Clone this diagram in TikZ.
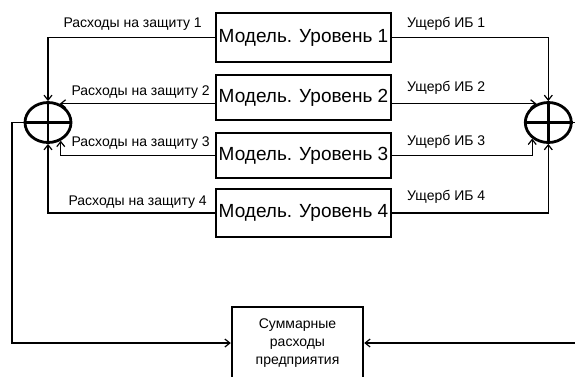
\documentclass[tikz,border=0pt]{standalone}
\usepackage{fontspec}
\setmainfont{Liberation Sans}
\usetikzlibrary{arrows.meta,shapes.geometric}
\begin{document}
\begin{tikzpicture}[x=1pt,y=-1pt,
  model/.style={draw,line width=2.8pt,minimum width=175pt,minimum height=46pt,inner sep=0pt,
    font=\fontsize{19}{23}\selectfont},
  adder/.style={draw,ellipse,line width=2.8pt,minimum width=46pt,minimum height=40pt,inner sep=0pt},
  total/.style={draw,line width=2.4pt,minimum width=131pt,minimum height=72pt,inner sep=0pt,
    align=center,font=\fontsize{14}{18}\selectfont},
  conn/.style={line width=1.2pt},
  arr/.style={conn,-{Straight Barb[length=5pt,width=8pt]}},
  lbl/.style={inner sep=0pt,font=\fontsize{14}{17}\selectfont}]
\useasboundingbox (0,0) rectangle (575,376);

% model blocks
\node[model,minimum height=49pt] (m1) at (303.5,37.5) {Модель. Уровень 1};
\node[model,minimum height=45pt] (m2) at (303.5,97.5) {Модель. Уровень 2};
\node[model,minimum height=45pt] (m3) at (303.5,155.5) {Модель. Уровень 3};
\node[model,minimum height=48pt] (m4) at (303.5,213) {Модель. Уровень 4};

% adders
\node[adder] (sl) at (48,122.5) {};
\node[adder] (sr) at (548.3,122.5) {};
\draw[line width=2.8pt] (sl.north) -- (sl.south) (sl.west) -- (sl.east);
\draw[line width=2.8pt] (sr.north) -- (sr.south) (sr.west) -- (sr.east);

% total block
\node[total] (tot) at (297.5,343) {Суммарные\\расходы\\предприятия};

% protection costs into the left adder
\draw[arr] (m1.west) -| (sl.north);
\draw[arr] (m2.west |- sl.58) -- (sl.58);
\draw[arr] (m3.west) -| (sl.-55);
\draw[arr] (m4.west) -| (sl.south);

% damage into the right adder
\draw[arr] (m1.east) -| (sr.north);
\draw[arr] (m2.east |- sr.122) -- (sr.122);
\draw[arr] (m3.east) -| (sr.-135);
\draw[arr] (m4.east) -| (sr.south);

% sums into the total block
\coordinate (lc) at (12,343);
\draw[arr] (sl.west) -- (sl.west -| lc) -- (lc) -- (tot.west);
\coordinate (re1) at (575,122.5);
\coordinate (re2) at (575,343);
\draw[conn] (sr.east) -- (re1);
\draw[arr] (re2) -- (tot.east);

% labels
\node[lbl,anchor=east] at (202,24) {Расходы на защиту 1};
\node[lbl,anchor=east] at (210,92) {Расходы на защиту 2};
\node[lbl,anchor=east] at (210,143) {Расходы на защиту 3};
\node[lbl,anchor=east] at (207,202) {Расходы на защиту 4};
\node[lbl,anchor=west] at (407,24) {Ущерб ИБ 1};
\node[lbl,anchor=west] at (407,88) {Ущерб ИБ 2};
\node[lbl,anchor=west] at (407,142) {Ущерб ИБ 3};
\node[lbl,anchor=west] at (407,197) {Ущерб ИБ 4};
\end{tikzpicture}
\end{document}
